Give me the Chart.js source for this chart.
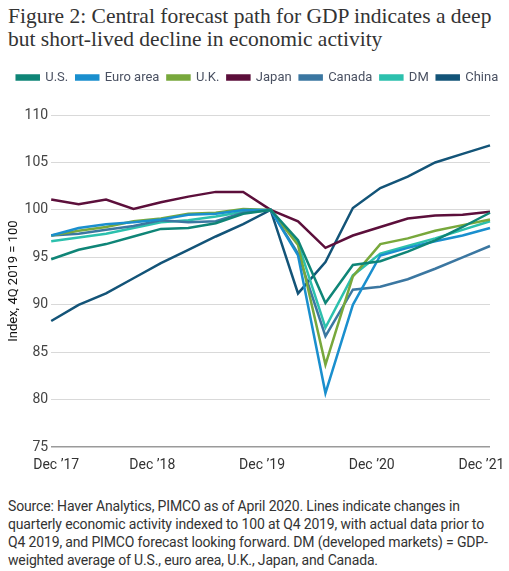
<!DOCTYPE html>
<html>
<head>
<meta charset="utf-8">
<script src="https://cdn.jsdelivr.net/npm/chart.js@4.4.1/dist/chart.umd.min.js"></script>
<style>
  html, body { margin: 0; padding: 0; background: #fff; }
  body { width: 509px; height: 571px; position: relative; overflow: hidden; }
  #title { position: absolute; left: 8px; top: 5px; width: 505px; font-family: "Liberation Serif", serif; font-size: 21.5px; line-height: 23px; color: #333; white-space: nowrap; }
  #wrap { position: absolute; left: 0; top: 60px; width: 509px; height: 424px; }
  #note { position: absolute; left: 8px; top: 497px; width: 505px; font-family: Roboto, sans-serif; font-size: 14px; line-height: 18px; color: #333; letter-spacing: -0.15px; white-space: nowrap; }
</style>
</head>
<body>
<div id="title">Figure 2: Central forecast path for GDP indicates a deep<br>but short-lived decline in economic activity</div>
<div id="wrap"><canvas id="c"></canvas></div>
<div id="note">Source: Haver Analytics, PIMCO as of April 2020. Lines indicate changes in<br>quarterly economic activity indexed to 100 at Q4 2019, with actual data prior to<br>Q4 2019, and PIMCO forecast looking forward. DM (developed markets) = GDP-<br>weighted average of U.S., euro area, U.K., Japan, and Canada.</div>
<script>
const categories = ["Dec \u201917","Mar \u201918","Jun \u201918","Sep \u201918","Dec \u201918","Mar \u201919","Jun \u201919","Sep \u201919","Dec \u201919","Mar \u201920","Jun \u201920","Sep \u201920","Dec \u201920","Mar \u201921","Jun \u201921","Sep \u201921","Dec \u201921"];
const shownTicks = ["Dec \u201917","Dec \u201918","Dec \u201919","Dec \u201920","Dec \u201921"];
const yTicks = [75, 80, 85, 90, 95, 100, 105, 110];

const us     = [94.8, 95.8, 96.4, 97.2, 98.0, 98.1, 98.6, 99.6, 100, 96.8, 90.2, 94.2, 94.6, 95.6, 96.8, 98.2, 99.7];
const euro   = [97.3, 98.1, 98.5, 98.7, 99.0, 99.5, 99.6, 100.0, 100, 95.2, 80.7, 90.0, 95.2, 96.0, 96.7, 97.3, 98.1];
const uk     = [97.3, 97.8, 98.2, 98.8, 99.1, 99.6, 99.7, 100.1, 100, 96.3, 83.7, 93.0, 96.4, 97.0, 97.8, 98.4, 99.0];
const japan  = [101.1, 100.6, 101.1, 100.1, 100.8, 101.4, 101.9, 101.9, 100, 98.8, 96.0, 97.3, 98.2, 99.1, 99.4, 99.5, 99.8];
const canada = [97.3, 97.5, 97.9, 98.3, 98.9, 98.7, 98.8, 99.7, 100, 95.4, 86.7, 91.6, 91.9, 92.7, 93.8, 95.0, 96.2];
const dm     = [96.7, 97.1, 97.5, 98.1, 98.7, 98.9, 99.3, 99.8, 100, 96.5, 87.6, 93.1, 95.4, 96.2, 97.0, 97.9, 98.8];
const china  = [88.3, 90.0, 91.2, 92.8, 94.4, 95.8, 97.2, 98.5, 100, 91.2, 94.5, 100.2, 102.3, 103.5, 105.0, 105.9, 106.8];

const seriesNames = ["U.S.", "Euro area", "U.K.", "Japan", "Canada", "DM", "China"];
const seriesData = [us, euro, uk, japan, canada, dm, china];
const seriesColors = ["#0f8577", "#1a8fce", "#78a83c", "#5c0f3b", "#3b77a1", "#2cc0ad", "#135478"];

const datasets = seriesNames.map((n, i) => ({
  label: n,
  data: seriesData[i],
  borderColor: seriesColors[i],
  backgroundColor: seriesColors[i],
  borderWidth: 2.5,
  pointRadius: 0,
  tension: 0,
  fill: false
}));

const legendSpacer = {
  id: 'legendSpacer',
  beforeInit(chart) {
    const origFit = chart.legend.fit;
    chart.legend.fit = function () {
      origFit.bind(chart.legend)();
      this.height += 21;
    };
  },
  afterLayout(chart) {
    chart.legend.left += 3;
    chart.legend.right += 3;
  }
};

new Chart(document.getElementById('c'), {
  type: 'line',
  data: { labels: categories, datasets },
  plugins: [legendSpacer],
  options: {
    responsive: true,
    maintainAspectRatio: false,
    animation: false,
    layout: { padding: { left: 0, right: 0, top: 3, bottom: 0 } },
    plugins: {
      legend: {
        display: true,
        position: 'top',
        labels: {
          boxWidth: 22,
          boxHeight: 4,
          padding: 8,
          color: '#4a5162',
          font: { family: 'Roboto', size: 13 }
        }
      },
      tooltip: { enabled: false }
    },
    scales: {
      x: {
        grid: { display: false, drawTicks: false },
        border: { display: false },
        afterFit: (s) => { s.paddingRight = 19; s.paddingLeft = 0; },
        ticks: {
          autoSkip: false,
          maxRotation: 0,
          padding: 10,
          color: '#333',
          font: { family: 'Roboto', size: 14 },
          callback: function(v, i) {
            const l = categories[i];
            if (!shownTicks.includes(l)) return '';
            return i === 0 ? '\u2002\u2009' + l : l + '\u2003\u2009';
          }
        }
      },
      y: {
        min: 75,
        max: 110,
        afterBuildTicks: (s) => { s.ticks = yTicks.map(v => ({ value: v })); },
        grid: {
          drawTicks: false,
          color: (ctx) => ctx.tick && ctx.tick.value === 75 ? '#9a9a9a' : '#d9d9d9',
          lineWidth: (ctx) => ctx.tick && ctx.tick.value === 75 ? 1.5 : 1
        },
        border: { display: false },
        ticks: {
          padding: 3,
          color: '#444',
          font: { family: 'Roboto', size: 14 }
        },
        title: {
          display: true,
          text: 'Index, 4Q 2019 = 100',
          color: '#111',
          font: { family: 'Roboto', size: 13 },
          padding: { top: 6, bottom: 0 }
        }
      }
    }
  }
});
</script>
</body>
</html>
